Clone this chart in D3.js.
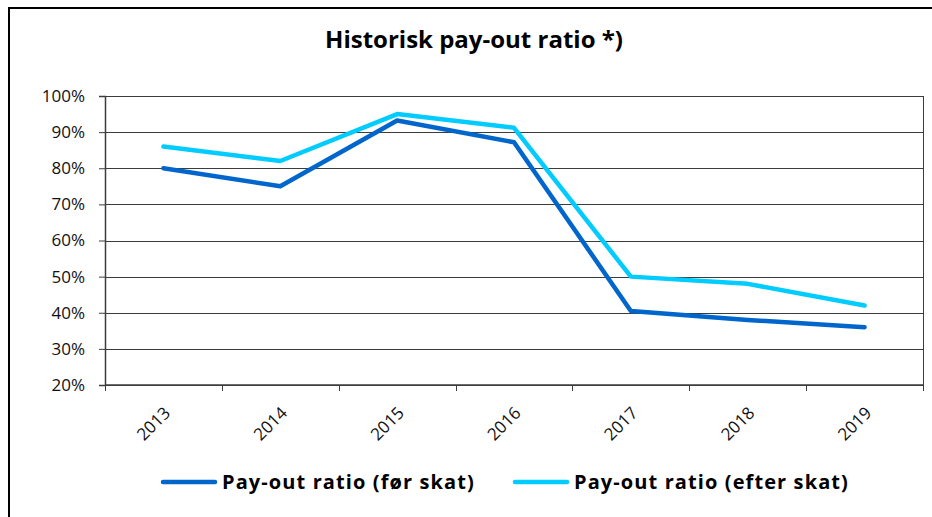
<!DOCTYPE html>
<html>
<head>
<meta charset="utf-8">
<script src="https://cdn.jsdelivr.net/npm/d3@7"></script>
<style>
  body { margin: 0; background: #fff; }
  svg { display: block; font-family: "Open Sans", Lato, sans-serif; }
</style>
</head>
<body>
<div id="chart"></div>
<script>
// data
const years = ['2013', '2014', '2015', '2016', '2017', '2018', '2019'];
const foerSkat  = [0.80, 0.75, 0.932, 0.872, 0.405, 0.38, 0.36];
const efterSkat = [0.86, 0.82, 0.95, 0.912, 0.50, 0.48, 0.42];
const yTicks = [0.2, 0.3, 0.4, 0.5, 0.6, 0.7, 0.8, 0.9, 1.0];
const seriesNames = ['Pay-out ratio (før skat)', 'Pay-out ratio (efter skat)'];
const seriesColors = ['#0066cc', '#00ccff'];

const W = 932, H = 517;
const plot = { left: 105, right: 923, top: 96, bottom: 385 };

let svg = d3.select('#chart').append('svg')
    .attr('width', W)
    .attr('height', H);

svg.append('rect')
    .attr('width', W).attr('height', H)
    .attr('fill', '#fff');

// outer frame (runs off right and bottom edges)
svg.append('rect')
    .attr('x', 9).attr('y', 8)
    .attr('width', 940).attr('height', 540)
    .attr('fill', 'none')
    .attr('stroke', '#000')
    .attr('stroke-width', 2);

svg.append('text')
    .attr('x', 474).attr('y', 48)
    .attr('text-anchor', 'middle')
    .attr('font-weight', 'bold')
    .attr('font-size', 24)
    .text('Historisk pay-out ratio *)');

let x = d3.scaleBand().domain(years).range([plot.left, plot.right]);
let y = d3.scaleLinear().domain([0.2, 1]).range([plot.bottom, plot.top]);

// gridlines
svg.append('g')
    .selectAll('line')
    .data(yTicks)
    .join('line')
    .attr('x1', plot.left).attr('x2', plot.right)
    .attr('y1', d => Math.round(y(d)) + 0.5)
    .attr('y2', d => Math.round(y(d)) + 0.5)
    .attr('stroke', '#3c3c3c')
    .attr('stroke-width', 1);

// right border of plot area
svg.append('line')
    .attr('x1', plot.right + 0.5).attr('x2', plot.right + 0.5)
    .attr('y1', plot.top).attr('y2', plot.bottom)
    .attr('stroke', '#3c3c3c');

// y axis
let yAxis = svg.append('g')
    .attr('transform', `translate(${plot.left},0)`)
    .call(d3.axisLeft(y).tickValues(yTicks).tickFormat(d3.format('.0%')).tickSize(6).tickPadding(14));
yAxis.select('.domain').attr('stroke', '#3c3c3c').attr('stroke-width', 1.5);
yAxis.selectAll('.tick line').attr('stroke', '#3c3c3c');
yAxis.selectAll('text')
    .attr('font-size', 17)
    .attr('fill', '#111')
    .attr('font-family', '"Open Sans", sans-serif');

// x axis: ticks between categories
let xAxisG = svg.append('g')
    .attr('transform', `translate(0,${plot.bottom})`);
xAxisG.append('line')
    .attr('x1', plot.left).attr('x2', plot.right)
    .attr('stroke', '#3c3c3c').attr('stroke-width', 1.5);
let bounds = years.map(d => x(d)).concat([plot.right]);
xAxisG.selectAll('line.tk')
    .data(bounds)
    .join('line')
    .attr('class', 'tk')
    .attr('x1', d => Math.round(d) + 0.5).attr('x2', d => Math.round(d) + 0.5)
    .attr('y1', 0).attr('y2', 6)
    .attr('stroke', '#3c3c3c');
xAxisG.selectAll('text')
    .data(years)
    .join('text')
    .attr('transform', d => `translate(${x(d) + x.bandwidth() / 2 + 8},${29}) rotate(-45)`)
    .attr('text-anchor', 'end')
    .attr('font-size', 17)
    .attr('fill', '#111')
    .text(d => d);

// lines
let line = d3.line()
    .x((d, i) => x(years[i]) + x.bandwidth() / 2)
    .y(d => y(d));

[foerSkat, efterSkat].forEach((vals, i) => {
    svg.append('path')
        .datum(vals)
        .attr('fill', 'none')
        .attr('stroke', seriesColors[i])
        .attr('stroke-width', 4.5)
        .attr('stroke-linecap', 'round')
        .attr('stroke-linejoin', 'round')
        .attr('d', line);
});

// legend
let legendX = [163, 515];
let leg = svg.append('g').selectAll('g')
    .data(seriesNames)
    .join('g')
    .attr('transform', (d, i) => `translate(${legendX[i]},482)`);
leg.append('line')
    .attr('x1', 0).attr('x2', 52)
    .attr('stroke', (d, i) => seriesColors[i])
    .attr('stroke-width', 4.5)
    .attr('stroke-linecap', 'round');
leg.append('text')
    .attr('x', 59).attr('y', 7)
    .attr('font-size', 20)
    .attr('letter-spacing', 1.1)
    .attr('font-weight', 'bold')
    .text(d => d);
</script>
</body>
</html>
